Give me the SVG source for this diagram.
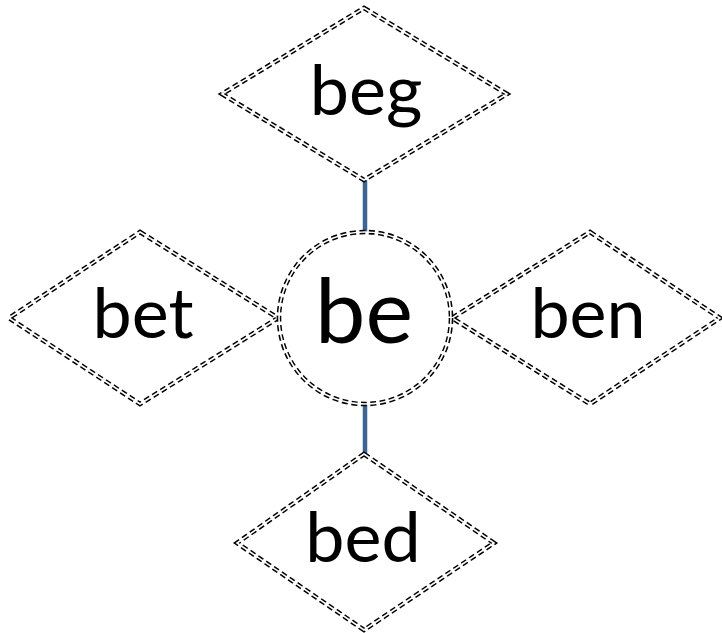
<svg xmlns="http://www.w3.org/2000/svg" width="722" height="633" viewBox="0 0 722 633">
<style>
.o{fill:#fff;stroke:#000;stroke-width:4.6;stroke-dasharray:6 3.5;}
.i{fill:none;stroke:#fff;stroke-width:1.6;}
.t{font-family:Lato,"Open Sans",sans-serif;fill:#000;text-anchor:middle;}
.c{stroke:#3c6496;stroke-width:4.5;fill:none;}
</style>
<rect width="722" height="633" fill="#fff"/>
<g id="connectors">
<line class="c" x1="365" y1="180" x2="365" y2="232"/>
<line class="c" x1="365" y1="404" x2="365" y2="454"/>
<line class="c" x1="276" y1="318" x2="281" y2="318"/>
<line class="c" x1="450" y1="318" x2="455" y2="318"/>
</g>
<g id="beg">
<polygon class="o" points="364,8 507,94 364,180 222,94"/>
<polygon class="i" points="364,8 507,94 364,180 222,94"/>
<text class="t" x="366" y="115" font-size="70">beg</text>
</g>
<g id="bet">
<polygon class="o" points="140,232 278,318 140,404 9,318"/>
<polygon class="i" points="140,232 278,318 140,404 9,318"/>
<text class="t" x="143" y="338" font-size="70">bet</text>
</g>
<g id="ben">
<polygon class="o" points="590,232 720,318 590,404 452,318"/>
<polygon class="i" points="590,232 720,318 590,404 452,318"/>
<text class="t" x="588" y="338" font-size="70">ben</text>
</g>
<g id="bed">
<polygon class="o" points="364,454 494,543 364,630 237,543"/>
<polygon class="i" points="364,454 494,543 364,630 237,543"/>
<text class="t" x="363" y="562" font-size="70">bed</text>
</g>
<g id="be">
<circle class="o" cx="365" cy="318" r="86"/>
<circle class="i" cx="365" cy="318" r="86"/>
<text class="t" x="364" y="343" font-size="90">be</text>
</g>
</svg>
